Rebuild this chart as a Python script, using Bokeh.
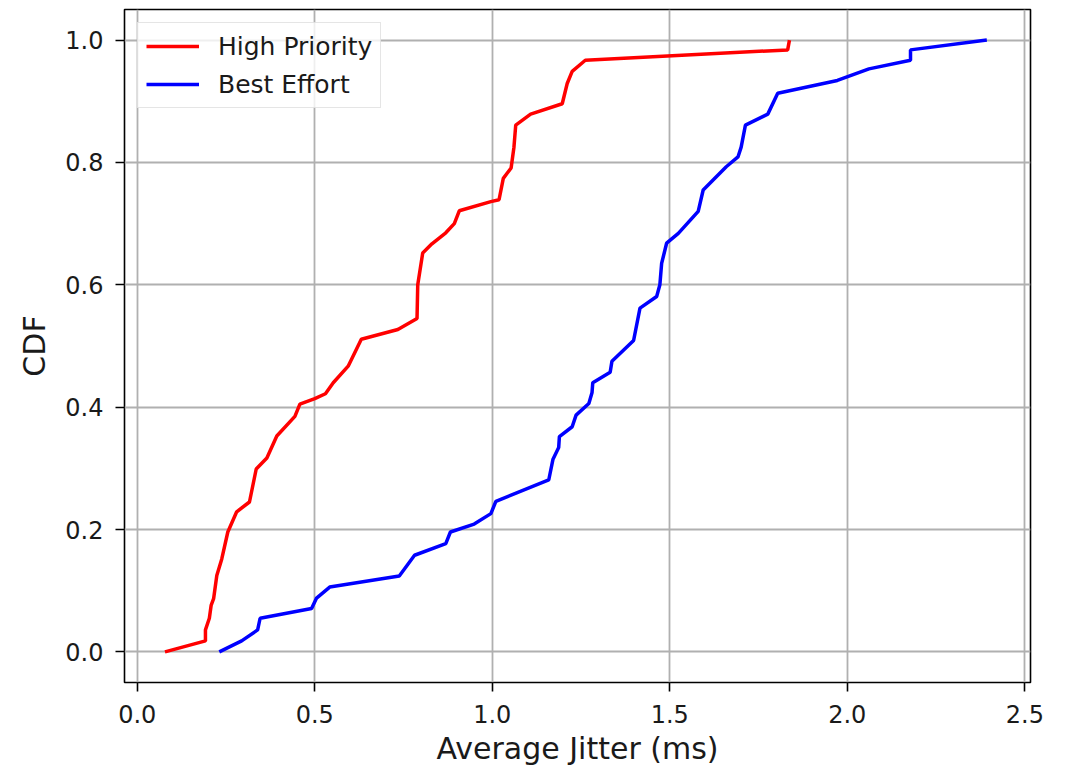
from bokeh.plotting import figure
from bokeh.models import Range1d, FixedTicker, NumeralTickFormatter, Legend, LegendItem
from bokeh.embed import file_html
from bokeh.resources import INLINE

# High Priority CDF vertices
hp_x = [0.078, 0.192, 0.192, 0.203, 0.208, 0.215, 0.224, 0.238, 0.255, 0.280, 0.316, 0.335,
        0.365, 0.393, 0.444, 0.458, 0.500, 0.530, 0.552, 0.594, 0.631, 0.734, 0.788, 0.790,
        0.804, 0.830, 0.869, 0.893, 0.907, 0.996, 1.019, 1.031, 1.053, 1.061, 1.066, 1.108,
        1.197, 1.211, 1.225, 1.262, 1.832, 1.837]
hp_y = [0.0, 0.018, 0.036, 0.055, 0.076, 0.087, 0.125, 0.152, 0.196, 0.229, 0.245, 0.299,
        0.317, 0.353, 0.385, 0.405, 0.414, 0.422, 0.440, 0.467, 0.511, 0.527, 0.545, 0.600,
        0.652, 0.667, 0.685, 0.700, 0.721, 0.736, 0.739, 0.774, 0.791, 0.825, 0.861, 0.879,
        0.896, 0.929, 0.949, 0.967, 0.984, 1.0]

# Best Effort CDF vertices
be_x = [0.231, 0.294, 0.339, 0.346, 0.491, 0.505, 0.542, 0.738, 0.781, 0.869, 0.882, 0.949,
        0.996, 1.010, 1.159, 1.171, 1.187, 1.189, 1.225, 1.236, 1.272, 1.281, 1.283, 1.332,
        1.337, 1.398, 1.416, 1.463, 1.472, 1.477, 1.491, 1.524, 1.580, 1.594, 1.659, 1.692,
        1.701, 1.713, 1.776, 1.804, 1.972, 2.061, 2.178, 2.178, 2.393]
be_y = [0.0, 0.018, 0.036, 0.055, 0.071, 0.088, 0.106, 0.124, 0.158, 0.177, 0.196, 0.209,
        0.226, 0.246, 0.281, 0.315, 0.334, 0.352, 0.368, 0.387, 0.406, 0.424, 0.440, 0.457,
        0.475, 0.509, 0.562, 0.581, 0.600, 0.635, 0.668, 0.684, 0.720, 0.755, 0.793, 0.809,
        0.825, 0.861, 0.879, 0.913, 0.934, 0.953, 0.967, 0.984, 1.0]

x_ticks = [0.0, 0.5, 1.0, 1.5, 2.0, 2.5]
y_ticks = [0.0, 0.2, 0.4, 0.6, 0.8, 1.0]
series_names = ["High Priority", "Best Effort"]
series_colors = ["#ff0000", "#0000ff"]

FONT = "DejaVu Sans"

p = figure(width=1068, height=768, output_backend="svg", toolbar_location=None,
           x_range=Range1d(-0.036, 2.516), y_range=Range1d(-0.05, 1.05),
           min_border_left=124, min_border_right=38, min_border_top=9, min_border_bottom=84)

p.outline_line_color = "black"
p.outline_line_width = 1.6
p.background_fill_color = "white"
p.border_fill_color = "white"

r1 = p.line(hp_x, hp_y, line_color=series_colors[0], line_width=3.5)
r2 = p.line(be_x, be_y, line_color=series_colors[1], line_width=3.5)

for ax, ticks in ((p.xaxis[0], x_ticks), (p.yaxis[0], y_ticks)):
    ax.ticker = FixedTicker(ticks=ticks)
    ax.formatter = NumeralTickFormatter(format="0.0")
    ax.axis_line_color = None
    ax.major_tick_in = 0
    ax.major_tick_out = 9
    ax.major_tick_line_width = 1.6
    ax.major_tick_line_color = "black"
    ax.minor_tick_line_color = None
    ax.major_label_text_font = FONT
    ax.major_label_text_font_size = "24px"
    ax.major_label_text_color = "#1a1a1a"
    ax.axis_label_text_font = FONT
    ax.axis_label_text_font_size = "30px"
    ax.axis_label_text_font_style = "normal"
    ax.axis_label_text_color = "#1a1a1a"

p.xaxis.axis_label = "Average Jitter (ms)"
p.yaxis.axis_label = "CDF"
p.xaxis.major_label_standoff = 13
p.yaxis.major_label_standoff = 12
p.xaxis.axis_label_standoff = 5
p.yaxis.axis_label_standoff = 10

p.xgrid.ticker = FixedTicker(ticks=x_ticks)
p.ygrid.ticker = FixedTicker(ticks=y_ticks)
p.grid.grid_line_color = "#b0b0b0"
p.grid.grid_line_width = 1.8

legend = Legend(items=[LegendItem(label=series_names[0], renderers=[r1]),
                       LegendItem(label=series_names[1], renderers=[r2])],
                location="top_left")
legend.margin = 13
legend.padding = 8
legend.spacing = 8
legend.glyph_width = 53
legend.glyph_height = 30
legend.label_height = 30
legend.label_standoff = 19
legend.label_text_font = FONT
legend.label_text_font_size = "25px"
legend.label_text_color = "#1a1a1a"
legend.border_line_color = "#cccccc"
legend.border_line_width = 1.5
legend.background_fill_color = "white"
legend.background_fill_alpha = 0.8
p.add_layout(legend, "center")

open("out.html", "w").write(file_html(p, INLINE))
